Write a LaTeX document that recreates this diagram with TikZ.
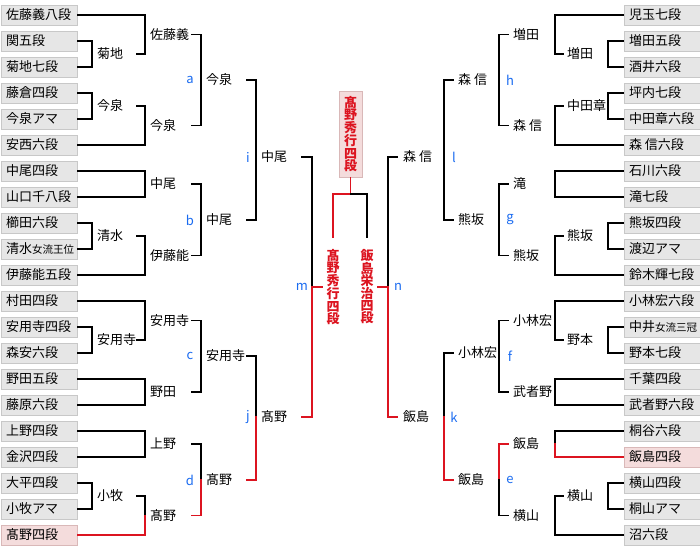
\documentclass[tikz,border=0pt]{standalone}
\usepackage{fontspec}
\setmainfont{Noto Sans CJK JP}
\definecolor{boxfill}{HTML}{E6E6E6}
\definecolor{boxline}{HTML}{C8C8C8}
\definecolor{pinkfill}{HTML}{F4DCDC}
\definecolor{pinkline}{HTML}{D9B8B8}
\definecolor{winred}{HTML}{DC1420}
\definecolor{ltrblue}{HTML}{1A6BF0}
\newcommand{\smtxt}[1]{{\fontsize{10.5pt}{12pt}\selectfont #1}}
\newcommand{\bx}[1]{\makebox[66pt][l]{#1}}
\begin{document}
\begin{tikzpicture}[x=1pt,y=-1pt,
  font=\fontsize{13pt}{15pt}\selectfont,
  box/.style={draw=boxline, fill=boxfill, line width=1pt, minimum width=76pt,
    minimum height=20pt, inner xsep=5pt, inner ysep=0pt, anchor=west},
  pinkbox/.style={box, draw=pinkline, fill=pinkfill},
  lab/.style={anchor=west, inner sep=0pt},
  ltr/.style={text=ltrblue, inner sep=0pt},
  ln/.style={line width=1.7pt, line cap=rect},
  rd/.style={ln, draw=winred},
  vtxt/.style={text=winred, font=\bfseries\fontsize{13pt}{12.4pt}\selectfont,
    align=center, inner sep=0pt},
]
\useasboundingbox (0,0) rectangle (700,546);

% ---------------- boxes ----------------
\foreach \t [count=\i from 0] in {佐藤義八段,関五段,菊地七段,藤倉四段,今泉アマ,安西六段,
  中尾四段,山口千八段,櫛田六段,{清水\smtxt{女流王位}},伊藤能五段,村田四段,安用寺四段,
  森安六段,野田五段,藤原六段,上野四段,金沢四段,大平四段,小牧アマ}
  \node[box] (L\i) at (0.5,{15+26*\i}) {\bx{\t}};
\node[pinkbox] (L20) at (0.5,535) {\bx{髙野四段}};

\foreach \t [count=\i from 0] in {児玉七段,増田五段,酒井六段,坪内七段,中田章六段,森 信六段,
  石川六段,滝七段,熊坂四段,渡辺アマ,鈴木輝七段,小林宏六段,{中井\smtxt{女流三冠}},
  野本七段,千葉四段,武者野六段,桐谷六段}
  \node[box] (R\i) at (623.5,{15+26*\i}) {\bx{\t}};
\node[pinkbox] (R17) at (623.5,457) {\bx{飯島四段}};
\node[box] (R18) at (623.5,483) {\bx{横山四段}};
\node[box] (R19) at (623.5,509) {\bx{桐山アマ}};
\node[box] (R20) at (623.5,535) {\bx{沼六段}};

% ---------------- left labels ----------------
\node[lab] (la1) at (97,54) {菊地};
\node[lab] (la2) at (97,106) {今泉};
\node[lab] (lb1) at (97,236) {清水};
\node[lab] (lc1) at (97,340) {安用寺};
\node[lab] (ld1) at (97,496) {小牧};

\node[lab] (la3) at (150,34.5) {佐藤義};
\node[lab] (la4) at (150,125.5) {今泉};
\node[lab] (lb3) at (150,184) {中尾};
\node[lab] (lb4) at (150,255.5) {伊藤能};
\node[lab] (lc3) at (150,320.5) {安用寺};
\node[lab] (lc4) at (150,392) {野田};
\node[lab] (ld3) at (150,444) {上野};
\node[lab] (ld4) at (150,515.5) {髙野};

\node[lab] (lwa) at (206,80) {今泉};
\node[lab] (lwb) at (206,219.75) {中尾};
\node[lab] (lwc) at (206,356) {安用寺};
\node[lab] (lwd) at (206,480) {髙野};

\node[lab] (lwi) at (261,157) {中尾};
\node[lab] (lwj) at (261,417) {髙野};

\node[ltr] (ka) at (190,80) {a};
\node[ltr] (kb) at (190,220) {b};
\node[ltr] (kc) at (190,356) {c};
\node[ltr] (kd) at (190,480) {d};
\node[ltr] (ki) at (248,157) {i};
\node[ltr] (kj) at (248,417) {j};
\node[ltr] (km) at (302,287) {m};

% ---------------- right labels ----------------
\node[lab] (rh1) at (567,54) {増田};
\node[lab] (rh2) at (567,106) {中田章};
\node[lab] (rg1) at (567,236) {熊坂};
\node[lab] (rf1) at (567,340) {野本};
\node[lab] (re1) at (567,496) {横山};

\node[lab] (rh3) at (513,34.5) {増田};
\node[lab] (rh4) at (513,125.5) {森 信};
\node[lab] (rg3) at (513,184) {滝};
\node[lab] (rg4) at (513,255.5) {熊坂};
\node[lab] (rf3) at (513,320.5) {小林宏};
\node[lab] (rf4) at (513,392) {武者野};
\node[lab] (re3) at (513,444) {飯島};
\node[lab] (re4) at (513,515.5) {横山};

\node[lab] (rwh) at (458,80) {森 信};
\node[lab] (rwg) at (458,219.75) {熊坂};
\node[lab] (rwf) at (458,353) {小林宏};
\node[lab] (rwe) at (458,480) {飯島};

\node[lab] (rwl) at (403,157) {森 信};
\node[lab] (rwk) at (403,417) {飯島};

\node[ltr] (kh) at (510,80) {h};
\node[ltr] (kg) at (510,220) {g};
\node[ltr] (kf) at (510,356) {f};
\node[ltr] (ke) at (510,480) {e};
\node[ltr] (kl) at (454,157) {l};
\node[ltr] (kk) at (454,417) {k};
\node[ltr] (kn) at (398,287) {n};

% ---------------- final ----------------
\node[draw=pinkline, fill=pinkfill, line width=1pt, minimum width=23pt,
  minimum height=86pt, inner sep=0pt] (champ) at (350.5,134) {};
\node[vtxt] (champt) at (champ.center) {髙\\野\\秀\\行\\四\\段};
\node[vtxt] (fin1) at (333,287) {髙\\野\\秀\\行\\四\\段};
\node[vtxt] (fin2) at (367,287) {飯\\島\\栄\\治\\四\\段};
\coordinate (fj) at (350.5,194);

% ---------------- left lines ----------------
\draw[ln] (L0.east) -- (145,15) -- (145,54) -- (137,54);
\draw[ln] (L1.east) -- (92,41) -- (92,67) -- (L2.east);
\draw[ln] (L3.east) -- (92,93) -- (92,119) -- (L4.east);
\draw[ln] (137,106) -- (145,106) -- (145,145) -- (L5.east);
\draw[ln] (192,34.5) -- (201,34.5) -- (201,125.5) -- (192,125.5);

\draw[ln] (L6.east) -- (145,171) -- (145,197) -- (L7.east);
\draw[ln] (L8.east) -- (92,223) -- (92,249) -- (L9.east);
\draw[ln] (137,236) -- (145,236) -- (145,275) -- (L10.east);
\draw[ln] (192,184) -- (201,184) -- (201,255.5) -- (192,255.5);

\draw[ln] (L11.east) -- (145,301) -- (145,340) -- (137,340);
\draw[ln] (L12.east) -- (92,327) -- (92,353) -- (L13.east);
\draw[ln] (L14.east) -- (145,379) -- (145,405) -- (L15.east);
\draw[ln] (192,320.5) -- (201,320.5) -- (201,392) -- (192,392);

\draw[ln] (L16.east) -- (145,431) -- (145,457) -- (L17.east);
\draw[ln] (L18.east) -- (92,483) -- (92,509) -- (L19.east);
\draw[ln] (137,496) -- (145,496) -- (145,515.5);
\draw[rd] (145,515.5) -- (145,535) -- (L20.east);
\draw[ln] (192,444) -- (201,444) -- (201,480);
\draw[rd] (201,480) -- (201,515.5) -- (192,515.5);

\draw[ln] (247,80) -- (256,80) -- (256,219.75) -- (247,219.75);
\draw[ln] (247,356) -- (256,356) -- (256,417);
\draw[rd] (256,417) -- (256,480) -- (247,480);

\draw[ln] (302,157) -- (312,157) -- (312,287);
\draw[rd] (312,287) -- (312,417) -- (302,417);
\draw[rd] (312,287) -- (322,287);

% ---------------- right lines ----------------
\draw[ln] (R0.west) -- (555,15) -- (555,54) -- (563,54);
\draw[ln] (R1.west) -- (608,41) -- (608,67) -- (R2.west);
\draw[ln] (R3.west) -- (608,93) -- (608,119) -- (R4.west);
\draw[ln] (563,106) -- (555,106) -- (555,145) -- (R5.west);
\draw[ln] (508,34.5) -- (499,34.5) -- (499,125.5) -- (508,125.5);

\draw[ln] (R6.west) -- (555,171) -- (555,197) -- (R7.west);
\draw[ln] (R8.west) -- (608,223) -- (608,249) -- (R9.west);
\draw[ln] (563,236) -- (555,236) -- (555,275) -- (R10.west);
\draw[ln] (508,184) -- (499,184) -- (499,255.5) -- (508,255.5);

\draw[ln] (R11.west) -- (555,301) -- (555,340) -- (563,340);
\draw[ln] (R12.west) -- (608,327) -- (608,353) -- (R13.west);
\draw[ln] (R14.west) -- (555,379) -- (555,405) -- (R15.west);
\draw[ln] (508,320.5) -- (499,320.5) -- (499,392) -- (508,392);

\draw[ln] (R16.west) -- (555,431) -- (555,444);
\draw[rd] (555,444) -- (555,457) -- (R17.west);
\draw[ln] (R18.west) -- (608,483) -- (608,509) -- (R19.west);
\draw[ln] (563,496) -- (555,496) -- (555,535) -- (R20.west);
\draw[rd] (508,444) -- (499,444) -- (499,480);
\draw[ln] (499,480) -- (499,515.5) -- (508,515.5);

\draw[ln] (453,80) -- (444,80) -- (444,219.75) -- (453,219.75);
\draw[ln] (453,353) -- (444,353) -- (444,417);
\draw[rd] (444,417) -- (444,480) -- (453,480);

\draw[ln] (397,157) -- (388,157) -- (388,287);
\draw[rd] (388,287) -- (388,417) -- (397,417);
\draw[rd] (388,287) -- (378,287);

% ---------------- final lines ----------------
\draw[rd] (champ.south) -- (fj) -- (333,194) -- (333,237);
\draw[ln] (fj) -- (367,194) -- (367,237);
\end{tikzpicture}
\end{document}
